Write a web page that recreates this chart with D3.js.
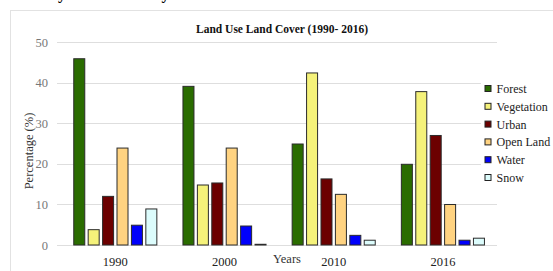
<!DOCTYPE html>
<html>
<head>
<meta charset="utf-8">
<script src="https://cdn.jsdelivr.net/npm/d3@7"></script>
<style>
  html, body { margin: 0; padding: 0; background: #fff; }
  svg { display: block; font-family: "Liberation Serif", "DejaVu Serif", serif; }
</style>
</head>
<body>
<svg id="chart" width="553" height="271"></svg>
<script>
// data
const years = ["1990", "2000", "2010", "2016"];
const classes = ["Forest", "Vegetation", "Urban", "Open Land", "Water", "Snow"];
const forest = [46, 39.2, 25, 20];
const vegetation = [3.9, 14.9, 42.5, 37.9];
const urban = [12.1, 15.4, 16.4, 27.1];
const openLand = [24, 24, 12.6, 10.1];
const water = [5, 4.8, 2.5, 1.3];
const snow = [9, 0.3, 1.3, 1.8];
const yTicks = [0, 10, 20, 30, 40, 50];
const colors = ["#2a6c00", "#f5f27a", "#6c0000", "#ffd381", "#0000fb", "#dcfcfc"];

const series = [forest, vegetation, urban, openLand, water, snow];
const serif = "Liberation Serif";

const svg = d3.select("#chart");

// page frame and the heading cut off at the top
svg.append("rect").attr("x", 10.5).attr("y", 10.5).attr("width", 600).attr("height", 300)
  .attr("fill", "none").attr("stroke", "#e2e2e2");
svg.append("text").attr("x", 25).attr("y", -1.5)
  .attr("font-family", serif).attr("font-weight", "bold").attr("font-size", 16).attr("fill", "#000")
  .text("Analysis of the Study Area");

const x0 = d3.scaleBand().domain(years).range([60.7, 497.5]).paddingInner(0.23).paddingOuter(0.115)
  , x1 = d3.scaleBand().domain(classes).range([0, x0.bandwidth()]).paddingInner(0.167)
  , y = d3.scaleLinear().domain([0, 50]).range([245, 42])
  , color = d3.scaleOrdinal().domain(classes).range(colors);

// grid
svg.append("g").selectAll("line").data(yTicks).enter().append("line")
  .attr("x1", 57).attr("x2", 497)
  .attr("y1", d => Math.round(y(d)) + 0.5).attr("y2", d => Math.round(y(d)) + 0.5)
  .attr("stroke", "#dedede").attr("stroke-width", 1);

// y axis, no domain line
const yAxis = svg.append("g").attr("transform", "translate(57,0)")
  .call(d3.axisLeft(y).tickValues(yTicks).tickSize(0).tickPadding(9))
  .attr("font-family", serif);
yAxis.select(".domain").remove();
yAxis.selectAll("text").attr("font-family", serif).attr("font-size", 12.5).attr("fill", "#777");

// x axis labels
const xAxis = svg.append("g").attr("transform", "translate(0,245)")
  .call(d3.axisBottom(x0).tickSize(0).tickPadding(12))
  .attr("font-family", serif);
xAxis.select(".domain").remove();
xAxis.selectAll("text").attr("font-family", serif).attr("font-size", 12.5).attr("fill", "#222");

// bars
const groups = svg.append("g").selectAll("g").data(years).enter().append("g")
  .attr("transform", d => "translate(" + x0(d) + ",0)");
groups.selectAll("rect").data((d, i) => classes.map((c, k) => ({ c: c, v: series[k][i] })))
  .enter().append("rect")
  .attr("x", d => x1(d.c) + 0.5)
  .attr("y", d => y(d.v) + 0.5)
  .attr("width", x1.bandwidth() - 1)
  .attr("height", d => Math.max(0, y(0) - y(d.v) - 0.5))
  .attr("fill", d => color(d.c))
  .attr("stroke", "#2b2b2b").attr("stroke-width", 1);

// title and axis titles
svg.append("text").attr("x", 282).attr("y", 33).attr("text-anchor", "middle")
  .attr("font-family", serif).attr("font-weight", "bold").attr("font-size", 11.5).attr("fill", "#111")
  .text("Land Use Land Cover (1990- 2016)");
svg.append("text").attr("transform", "translate(33,151) rotate(-90)").attr("text-anchor", "middle")
  .attr("font-family", serif).attr("font-size", 12.5).attr("fill", "#333").text("Percentage (%)");
svg.append("text").attr("x", 287).attr("y", 262.5).attr("text-anchor", "middle")
  .attr("font-family", serif).attr("font-size", 12.5).attr("fill", "#333").text("Years");

// legend on a white box over the grid
const legend = svg.append("g").attr("transform", "translate(481,80)");
legend.append("rect").attr("x", 0).attr("y", 0).attr("width", 72).attr("height", 106).attr("fill", "#fff");
const items = legend.selectAll("g").data(classes).enter().append("g")
  .attr("transform", (d, i) => "translate(0," + (i * 17.8) + ")");
items.append("rect").attr("x", 4).attr("y", 5.5).attr("width", 6).attr("height", 6)
  .attr("fill", d => color(d)).attr("stroke", "#222").attr("stroke-width", 1);
items.append("text").attr("x", 15.5).attr("y", 13)
  .attr("font-family", serif).attr("font-size", 12).attr("fill", "#222")
  .text(d => d);
</script>
</body>
</html>
